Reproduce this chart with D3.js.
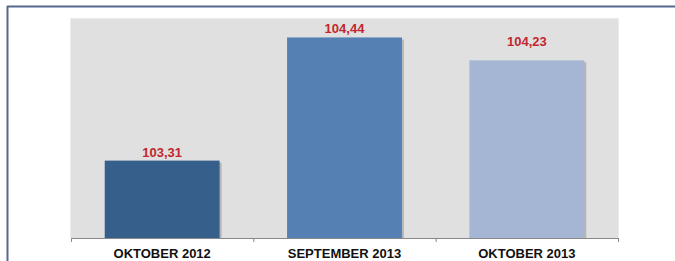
<!DOCTYPE html>
<html><head><meta charset="utf-8">
<script src="https://cdn.jsdelivr.net/npm/d3@7"></script>
<style>html,body{margin:0;padding:0;background:#fff;}svg{display:block;}</style>
</head><body>
<svg id="c" width="675" height="261"></svg>
<script>
const categories = ["OKTOBER 2012", "SEPTEMBER 2013", "OKTOBER 2013"];
const values = [103.31, 104.44, 104.23];
const labels = ["103,31", "104,44", "104,23"];
const colors = ["#365f8c", "#5480b4", "#a4b6d3"];
const yDomain = [102.6, 104.6];

const svg = d3.select("#c");
const m = {l: 71, r: 57, t: 19, b: 23};
const W = 675, H = 261;

// frame lines
svg.append("line").attr("x1", 7).attr("x2", 675).attr("y1", 6.5).attr("y2", 6.5)
  .attr("stroke", "#56678e").attr("stroke-width", 2);
svg.append("line").attr("x1", 7.5).attr("x2", 7.5).attr("y1", 6).attr("y2", 261)
  .attr("stroke", "#56678e").attr("stroke-width", 2);

const x = d3.scaleBand().domain(categories).range([m.l, W - m.r]).paddingInner(0.37).paddingOuter(0.185);
const y = d3.scaleLinear().domain(yDomain).range([H - m.b, m.t + 1]);

// plot background
svg.append("rect").attr("x", m.l - 1).attr("y", m.t - 1).attr("width", W - m.r - m.l + 2).attr("height", H - m.b - m.t + 1)
  .attr("fill", "#ececec");
svg.append("rect").attr("x", m.l).attr("y", m.t).attr("width", W - m.r - m.l).attr("height", H - m.b - m.t)
  .attr("fill", "#e0e0e0");

// shadows
svg.selectAll(".sh").data(values).enter().append("rect")
  .attr("x", (d, i) => x(categories[i]) + 2)
  .attr("y", d => y(d) + 2)
  .attr("width", x.bandwidth())
  .attr("height", d => y(yDomain[0]) - y(d) - 2)
  .attr("fill", "#9a9a9a").attr("opacity", 0.6);

svg.selectAll(".bar").data(values).enter().append("rect")
  .attr("x", (d, i) => x(categories[i]))
  .attr("y", d => y(d))
  .attr("width", x.bandwidth())
  .attr("height", d => y(yDomain[0]) - y(d))
  .attr("fill", (d, i) => colors[i]);

svg.selectAll(".val").data(values).enter().append("text")
  .attr("x", (d, i) => x(categories[i]) + x.bandwidth() / 2)
  .attr("y", (d, i) => y(d) - 4 - (i === 2 ? 10 : 0))
  .attr("text-anchor", "middle")
  .attr("font-family", "Liberation Sans, Arial, sans-serif")
  .attr("font-weight", "bold").attr("font-size", 13)
  .attr("fill", "#c1272d")
  .text((d, i) => labels[i]);

// x axis
const ax = svg.append("g").attr("transform", `translate(0,${H - m.b})`)
  .call(d3.axisBottom(x).tickSize(0).tickPadding(11));
ax.select(".domain").attr("stroke", "#888").attr("d", `M${m.l},0.5H${W - m.r}`);
ax.selectAll("text").attr("font-family", "Liberation Sans, Arial, sans-serif")
  .attr("font-weight", "bold").attr("font-size", 13).attr("fill", "#111");
// band boundary ticks
const bounds = [m.l, ...categories.map(c => x(c) + x.bandwidth() + x.step() * x.paddingInner() / 2).slice(0, -1), W - m.r];
ax.selectAll(".bt").data(bounds).enter().append("line")
  .attr("x1", d => d + 0.5).attr("x2", d => d + 0.5).attr("y1", 0).attr("y2", 4)
  .attr("stroke", "#888");
</script>
</body></html>
